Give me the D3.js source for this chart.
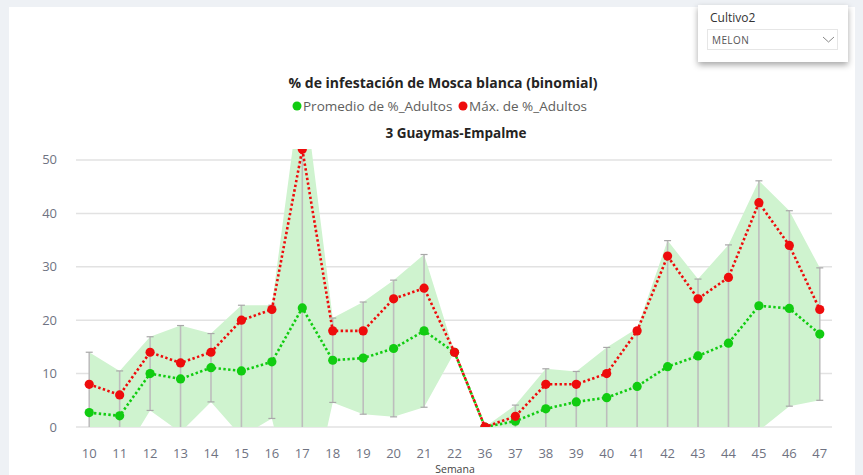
<!DOCTYPE html>
<html>
<head>
<meta charset="utf-8">
<script src="https://cdn.jsdelivr.net/npm/d3@7"></script>
<style>
  body { margin: 0; background: #eef1f5; font-family: "Open Sans", sans-serif; }
  #chart { position: absolute; left: 0; top: 0; }
</style>
</head>
<body>
<div id="chart"></div>
<script>
// semanas (categorías del eje X)
var semanas = ["10","11","12","13","14","15","16","17","18","19","20","21","22","36","37","38","39","40","41","42","43","44","45","46","47"];
// Promedio de %_Adultos
var promedio = [2.7, 2.1, 10, 9, 11.1, 10.5, 12.2, 22.3, 12.5, 12.9, 14.7, 18, 14, 0, 1.1, 3.4, 4.7, 5.5, 7.6, 11.3, 13.3, 15.7, 22.7, 22.2, 17.4];
// Máx. de %_Adultos
var maximo = [8, 6, 14, 12, 14, 20, 22, 52, 18, 18, 24, 26, 14, 0, 2, 8, 8, 10, 18, 32, 24, 28, 42, 34, 22];
// desviación (barras de error, promedio ± desv)
var desv = [11.3, 8.4, 6.9, 10, 6.4, 12.3, 10.6, 43.5, 7.9, 10.5, 12.8, 14.3, 0, 0, 3, 7.5, 5.7, 9.4, 10.9, 23.6, 14.4, 18.4, 23.4, 18.3, 12.4];
var yTicks = [0, 10, 20, 30, 40, 50];

var W = 863, H = 475;
var svg = d3.select("#chart").append("svg")
    .attr("width", W).attr("height", H);

// panel blanco
svg.append("rect").attr("x", 9).attr("y", 7).attr("width", 846).attr("height", H - 7)
    .attr("fill", "#ffffff");

var defs = svg.append("defs");
var sh = defs.append("filter").attr("id", "shadow").attr("x", "-20%").attr("y", "-30%")
    .attr("width", "140%").attr("height", "170%");
sh.append("feDropShadow").attr("dx", 0).attr("dy", 3).attr("stdDeviation", 3)
    .attr("flood-color", "#000").attr("flood-opacity", 0.35);

defs.append("clipPath").attr("id", "plotclip").append("rect")
    .attr("x", 60).attr("y", 149).attr("width", 790).attr("height", 278);

var x = d3.scaleBand().domain(semanas).range([74, 835]);
var y = d3.scaleLinear().domain([0, 52]).range([427, 149.3]);
var cx = function (d, i) { return x(semanas[i]) + x.bandwidth() / 2; };

// gridlines
svg.append("g").selectAll("line").data(yTicks).enter().append("line")
    .attr("x1", 76).attr("x2", 832)
    .attr("y1", function (d) { return y(d); }).attr("y2", function (d) { return y(d); })
    .attr("stroke", "#e2e2e2").attr("stroke-width", 1.5);

svg.append("g").selectAll("text").data(yTicks).enter().append("text")
    .attr("x", 57).attr("y", function (d) { return y(d) + 4.5; })
    .attr("text-anchor", "end").attr("font-size", 13).attr("fill", "#6f7382")
    .text(function (d) { return d; });

// eje X
svg.append("g").selectAll("text").data(semanas).enter().append("text")
    .attr("x", function (d) { return x(d) + x.bandwidth() / 2; }).attr("y", 457.5)
    .attr("text-anchor", "middle").attr("font-size", 13).attr("fill", "#6f7382")
    .text(function (d) { return d; });

svg.append("text").attr("x", 455).attr("y", 473).attr("text-anchor", "middle")
    .attr("font-size", 10.5).attr("fill", "#444").text("Semana");

var plot = svg.append("g").attr("clip-path", "url(#plotclip)");

// banda (promedio ± desv)
var area = d3.area()
    .x(function (d, i) { return cx(d, i); })
    .y0(function (d, i) { return y(promedio[i] - desv[i]); })
    .y1(function (d, i) { return y(promedio[i] + desv[i]); });
plot.append("path").datum(promedio).attr("d", area)
    .attr("fill", "#cff3cf");

// barras de error
var bars = plot.append("g");
promedio.forEach(function (m, i) {
    if (desv[i] <= 0) return;
    var px = cx(m, i);
    bars.append("line").attr("x1", px).attr("x2", px)
        .attr("y1", y(m - desv[i])).attr("y2", y(m + desv[i]))
        .attr("stroke", "#bdbdbd").attr("stroke-width", 1.6);
    [m - desv[i], m + desv[i]].forEach(function (v) {
        bars.append("line").attr("x1", px - 3.5).attr("x2", px + 3.5)
            .attr("y1", y(v)).attr("y2", y(v))
            .attr("stroke", "#a8a8a8").attr("stroke-width", 1.2);
    });
});

var line = d3.line().x(function (d, i) { return cx(d, i); }).y(function (d) { return y(d); });

function serie(values, color) {
    plot.append("path").datum(values).attr("d", line)
        .attr("fill", "none").attr("stroke", color).attr("stroke-width", 2.6)
        .attr("stroke-dasharray", "2.4,2.4");
    plot.append("g").selectAll("circle").data(values).enter().append("circle")
        .attr("cx", function (d, i) { return cx(d, i); })
        .attr("cy", function (d) { return y(d); })
        .attr("r", 4.6).attr("fill", color);
}
serie(promedio, "#11cc11");
serie(maximo, "#ee0c0c");

// títulos
svg.append("text").attr("x", 443).attr("y", 88).attr("text-anchor", "middle")
    .attr("font-size", 14).attr("font-weight", "bold").attr("fill", "#252423")
    .text("% de infestación de Mosca blanca (binomial)");

var leg = [["Promedio de %_Adultos", "#11cc11", 297], ["Máx. de %_Adultos", "#ee0c0c", 463]];
leg.forEach(function (l) {
    svg.append("circle").attr("cx", l[2]).attr("cy", 106).attr("r", 4.5).attr("fill", l[1]);
    svg.append("text").attr("x", l[2] + 6).attr("y", 111).attr("font-size", 13.5)
        .attr("fill", "#605e5c").text(l[0]);
});

svg.append("text").attr("x", 456).attr("y", 138).attr("text-anchor", "middle")
    .attr("font-size", 13.5).attr("font-weight", "bold").attr("fill", "#252423")
    .text("3 Guaymas-Empalme");

// slicer Cultivo2
var sl = svg.append("g");
sl.append("rect").attr("x", 698).attr("y", 5).attr("width", 150).attr("height", 57)
    .attr("fill", "#fff").attr("filter", "url(#shadow)");
sl.append("text").attr("x", 710).attr("y", 22).attr("font-size", 12).attr("fill", "#333")
    .text("Cultivo2");
sl.append("rect").attr("x", 707.5).attr("y", 29.5).attr("width", 130).attr("height", 20)
    .attr("fill", "#fff").attr("stroke", "#e6e6e6");
sl.append("text").attr("x", 712).attr("y", 44).attr("font-size", 10).attr("fill", "#555")
    .attr("letter-spacing", 0.4).text("MELON");
sl.append("path").attr("d", "M823,37 L828.5,42 L834,37").attr("fill", "none")
    .attr("stroke", "#888").attr("stroke-width", 1);
</script>
</body>
</html>
